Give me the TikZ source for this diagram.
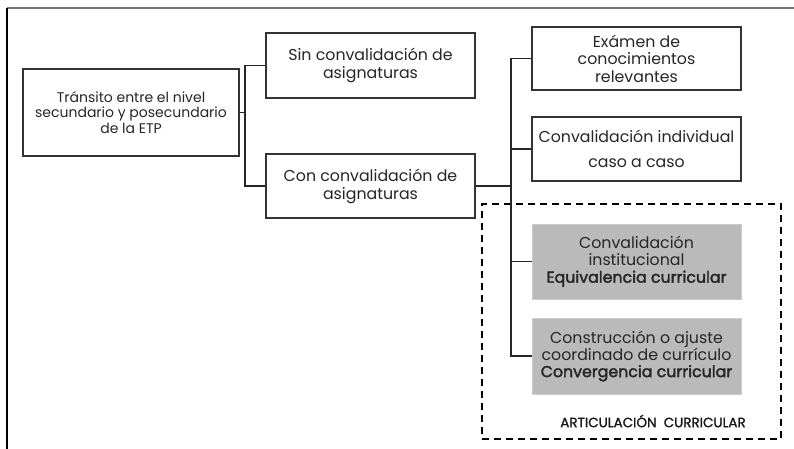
\documentclass[tikz,border=0pt]{standalone}
\usepackage{fontspec}
\setmainfont{Poppins}
\newfontfamily\semibfont[FakeBold=2.2]{Poppins}
\newfontfamily\labelfont[FakeBold=1.3]{Poppins}
\usetikzlibrary{positioning}

\begin{document}
\begin{tikzpicture}[x=1pt, y=-1pt, line width=1.6pt,
	box/.style={draw=black!80, fill=white, minimum width=209pt, inner sep=0pt, align=center, text=black!85, font=\fontsize{15.8}{18}\selectfont},
	graybox/.style={box, draw=black!20, fill=black!27, line width=1pt},
	link/.style={draw=black!85, line width=1.8pt}]
	\useasboundingbox (0,0) rectangle (794,449);
	\draw[color=black!55, line width=1.5pt] (7,8) -- (794,8);
	\draw[color=black, line width=1.5pt] (7,8) -- (7,449);
	\node[box, minimum width=216pt, minimum height=87pt, font=\fontsize{14}{15.5}\selectfont] (root) at (131,112.5) {Tránsito entre el nivel\\secundario y posecundario\\de la ETP};
	\node[box, minimum height=65pt] (sin) at (370.5,65.5) {Sin convalidación de\\asignaturas};
	\node[box, minimum height=64pt] (con) at (370.5,186) {Con convalidación de\\asignaturas};
	\node[box, minimum height=63pt, font=\fontsize{15.8}{17.5}\selectfont] (exam) at (636.5,58.5) {Exámen de\\conocimientos\\relevantes};
	\node[box, minimum height=64pt] (indiv) at (636.5,149) {Convalidación individual\\[7pt]caso a caso};
	\node[draw=black, dashed, dash pattern=on 7pt off 5pt, minimum width=299pt, minimum height=235pt] (artic) at (631.5,321.5) {};
	\node[graybox, minimum height=75pt, font=\fontsize{15.8}{17}\selectfont] (inst) at (636.5,261.5) {Convalidación\\institucional\\{\semibfont Equivalencia curricular}};
	\node[graybox, minimum height=76pt, font=\fontsize{15.8}{17}\selectfont] (constr) at (636.5,356) {Construcción o ajuste\\coordinado de currículo\\{\semibfont Convergencia curricular}};
	\node[font=\fontsize{13.5}{15}\selectfont\labelfont, text=black!90] (articlabel) at (653,421) {ARTICULACIÓN\ \ CURRICULAR};
	% connectors
	\coordinate (j1) at (245,112.5);
	\coordinate (j2) at (511,186);
	\draw[link] (root.east) -- (j1);
	\draw[link] (sin.west) -| (j1) |- (con.west);
	\draw[link] (con.east) -- (j2);
	\draw[link] (exam.west) -| (j2) |- (constr.west);
	\draw[link] (j2 |- indiv.west) -- (indiv.west);
	\draw[link] (j2 |- inst.west) -- (inst.west);
\end{tikzpicture}
\end{document}
